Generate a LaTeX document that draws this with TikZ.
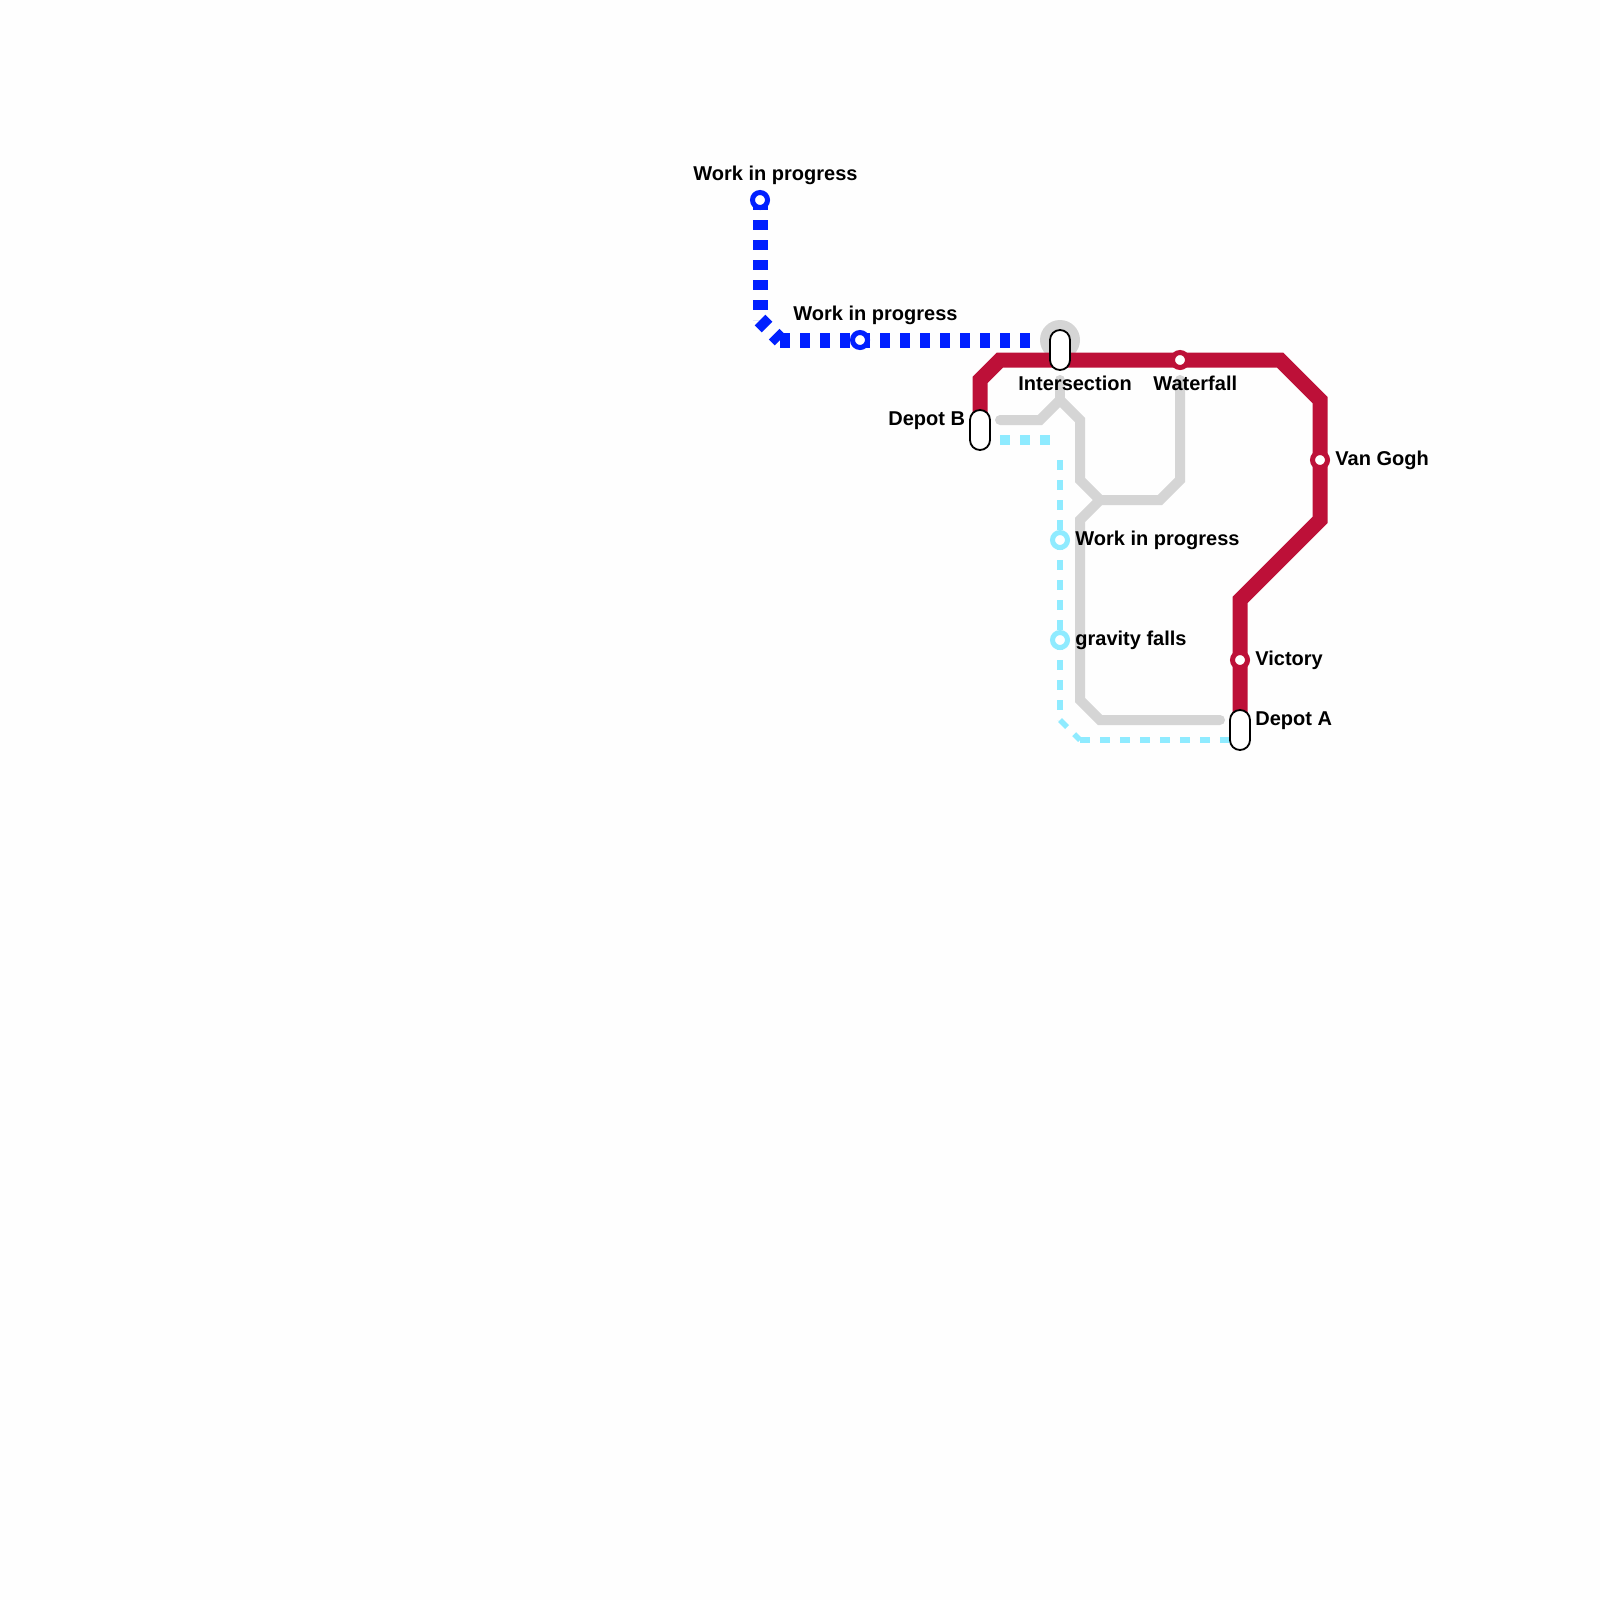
\documentclass[tikz,border=0pt]{standalone}
\usepackage{fontspec}
\setmainfont{Liberation Sans}
\definecolor{bgc}{HTML}{FEFEFE}
\definecolor{bluel}{HTML}{0020FF}
\definecolor{redl}{HTML}{BD1038}
\definecolor{cyanl}{HTML}{8FEBFF}
\definecolor{grayl}{HTML}{D5D5D5}
\tikzset{
  redline/.style={draw=redl,line width=7.5pt,miter limit=10},
  grayline/.style={draw=grayl,line width=5pt,line cap=round},
  blueline/.style={draw=bluel,line width=7.5pt,dash pattern=on 5pt off 5pt},
  cyanwide/.style={draw=cyanl,line width=5pt,dash pattern=on 5pt off 5pt},
  cyanthin/.style={draw=cyanl,line width=2.8pt,dash pattern=on 5pt off 5pt},
  ring/.style={circle,fill=white,draw=#1,line width=2.5pt,minimum size=7.5pt,inner sep=0pt,outer sep=0pt},
  pill/.style={rectangle,rounded corners=5pt,fill=white,draw=black,line width=0.9pt,minimum width=10pt,minimum height=20pt,inner sep=0pt,outer sep=0pt},
  hub/.style={circle,fill=grayl,minimum size=20pt,inner sep=0pt,outer sep=0pt},
  lbl/.style={anchor=base west,inner sep=0pt,font=\fontsize{10pt}{12pt}\selectfont\bfseries,text=black},
}
\begin{document}
\begin{tikzpicture}[x=0.5pt,y=-0.5pt]
\fill[bgc] (0,0) rectangle (1600,1600);
\useasboundingbox (0,0) rectangle (1600,1600);
% blue route coordinates
\coordinate (b1) at (760,200);
\coordinate (b2) at (760,320);
\coordinate (b3) at (780,340);
\coordinate (b4) at (1030,340);
% red route coordinates
\coordinate (r1) at (980,430);
\coordinate (r2) at (980,380);
\coordinate (r3) at (1000,360);
\coordinate (r4) at (1280,360);
\coordinate (r5) at (1320,400);
\coordinate (r6) at (1320,520);
\coordinate (r7) at (1240,600);
\coordinate (r8) at (1240,730);
% grey route coordinates
\coordinate (g1) at (1000,420);
\coordinate (g2) at (1040,420);
\coordinate (g3) at (1060,400);
\coordinate (g4) at (1080,420);
\coordinate (g5) at (1080,480);
\coordinate (g6) at (1100,500);
\coordinate (g7) at (1160,500);
\coordinate (g8) at (1180,480);
\coordinate (g9) at (1180,380);
\coordinate (g10) at (1060,380);
\coordinate (g11) at (1080,520);
\coordinate (g12) at (1080,700);
\coordinate (g13) at (1100,720);
\coordinate (g14) at (1220,720);
% cyan route coordinates
\coordinate (c1) at (1000,440);
\coordinate (c2) at (1050,440);
\coordinate (c3) at (1060,460);
\coordinate (c4) at (1060,720);
\coordinate (c5) at (1080,740);
\coordinate (c6) at (1240,740);
% connectors
\draw[grayline] (g1) -- (g2) -- (g3) -- (g4) -- (g5) -- (g6) -- (g7) -- (g8) -- (g9);
\draw[grayline] (g10) -- (g3);
\draw[grayline] (g6) -- (g11) -- (g12) -- (g13) -- (g14);
\draw[cyanwide] (c1) -- (c2);
\draw[cyanthin] (c3) -- (c4);
\draw[cyanthin] (c4) -- (c5);
\draw[cyanthin] (c5) -- (c6);
\draw[blueline] (b1) -- (b2);
\draw[blueline] (b2) -- (b3);
\draw[blueline] (b3) -- (b4);
\node[hub] (hubI) at (1060,340) {};
\draw[redline] (r1) -- (r2) -- (r3) -- (r4) -- (r5) -- (r6) -- (r7) -- (r8);
% stations
\node[ring=bluel] (s1) at (760,200) {};
\node[ring=bluel] (s2) at (860,340) {};
\node[ring=redl] (s3) at (1180,360) {};
\node[ring=redl] (s4) at (1320,460) {};
\node[ring=redl] (s5) at (1240,660) {};
\node[ring=cyanl] (s6) at (1060,540) {};
\node[ring=cyanl] (s7) at (1060,640) {};
\node[pill] (p1) at (1060,350) {};
\node[pill] (p2) at (980,430) {};
\node[pill] (p3) at (1240,730) {};
% labels
\node[lbl] (t1) at (693,180) {Work in progress};
\node[lbl] (t2) at (793,320) {Work in progress};
\node[lbl] (t3) at (1018,390) {Intersection};
\node[lbl] (t4) at (1153,390) {Waterfall};
\node[lbl] (t5) at (888,425) {Depot B};
\node[lbl] (t6) at (1335,465) {Van Gogh};
\node[lbl] (t7) at (1075,545) {Work in progress};
\node[lbl] (t8) at (1075,645) {gravity falls};
\node[lbl] (t9) at (1255,665) {Victory};
\node[lbl] (t10) at (1255,725) {Depot A};
\end{tikzpicture}
\end{document}
